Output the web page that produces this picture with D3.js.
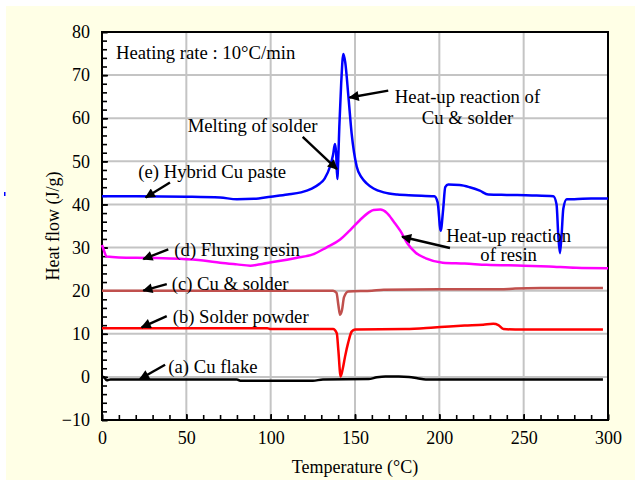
<!DOCTYPE html>
<html>
<head>
<meta charset="utf-8">
<script src="https://cdn.jsdelivr.net/npm/d3@7.9.0/dist/d3.min.js"></script>
<style>
  html, body { margin: 0; padding: 0; background: #fff; }
  svg text { font-family: "Liberation Serif", "DejaVu Serif", serif; fill: #000; }
</style>
</head>
<body>
<svg id="chart" width="635" height="486"></svg>
<script>
// ---- data (temperature in °C, heat flow in J/g) ----
const cuFlake = [[0,0],[1,0],[2.8,-0.8],[5,-0.6],[80,-0.6],[82,-0.9],[125,-0.9],[131,-0.6],[158,-0.5],
  [163,-0.1],[168,0.1],[176,0.1],[182,0],[187,-0.3],[192,-0.6],[297,-0.6]];

const solderPowder = [[0,11.3],[98,11.3],[100,11.1],[137,11.1],[139.2,10.1],[140.1,6.3],[141.5,0.1],
  [142.8,2],[144.1,4.7],[146,8],[148,10.5],[150,11],[180,11.1],[195,11.4],[206,11.7],[215,11.9],
  [226,12.1],[232,12.3],[235,12],[238,11.1],[245,11],[297,11]];

const cuSolder = [[0,20],[50,20],[100,20],[137,20],[139,19.5],[140.2,16.5],[141.1,14.4],[142.3,15.5],
  [143.5,18.5],[146,19.8],[160,20],[167,20.2],[200,20.3],[236,20.3],[245,20.5],[260,20.6],[297,20.6]];

const fluxingResin = [[0,30.6],[1,29.5],[2.8,27.9],[10,27.7],[30,27.6],[46,27.4],[60,27],[70,26.5],
  [80,26.1],[88,25.8],[95,26.2],[104,26.8],[115,27.6],[125,28.4],[133,30.0],[141,31.8],[147,34.0],
  [153,36.4],[158,38.1],[161,38.7],[165,38.8],[169,38],[173,36],[177,33.8],[181,31],[186,28.8],
  [192,27.5],[202,26.5],[215,26.3],[228,26],[250,25.8],[265,25.6],[281,25.3],[300,25.2]];

const hybridPaste = [[0,41.9],[20,41.9],[50,41.8],[70,41.6],[80,41.2],[90,41.3],[100,41.8],[110,42.3],
  [118,42.8],[124,43.6],[129,44.8],[132,46],[135.2,48.8],[137,51.5],[138.1,54],[138.8,52],[139.5,45.9],
  [140.2,52],[140.7,58],[141.8,68],[143.1,74.9],[144.2,73],[146.1,65],[148,56.5],[151,48.8],[154,46.2],
  [156.9,44.9],[161,43.7],[167,42.8],[175,42.3],[185,42.1],[197,41.9],[199,40.5],[200.8,33.9],
  [202.3,39],[203.5,44],[205.3,44.6],[212,44.5],[218,44],[224,43.2],[229,42.3],[240,42.2],[255,42.1],
  [267.6,41.9],[269.5,40],[270.5,33],[271.5,28.7],[272.5,33],[273.5,39],[275.5,41.2],[280,41.2],
  [290,41.4],[300,41.4]];

const xTicks = [0, 50, 100, 150, 200, 250, 300];
const yTicks = [-10, 0, 10, 20, 30, 40, 50, 60, 70, 80];

// ---- layout ----
const svg = d3.select('#chart');
const x = d3.scaleLinear().domain([0, 300]).range([102, 608]);
const y = d3.scaleLinear().domain([-10, 80]).range([420, 32]);

// yellow page background
svg.append('rect')
  .attr('x', 6).attr('y', 6).attr('width', 629).attr('height', 474)
  .attr('fill', '#ffffe6');

// stray mark at the left edge of the original
svg.append('rect').attr('x', 4).attr('y', 192).attr('width', 1.5).attr('height', 4).attr('fill', '#0000ff');

// plot area
svg.append('rect')
  .attr('x', x(0)).attr('y', y(80))
  .attr('width', x(300) - x(0)).attr('height', y(-10) - y(80))
  .attr('fill', '#fff');

// grid
const grid = svg.append('g').attr('stroke', '#c4c4c4').attr('stroke-width', 2);
xTicks.slice(1, -1).forEach(t => {
  grid.append('line').attr('x1', x(t)).attr('x2', x(t)).attr('y1', y(-10)).attr('y2', y(80));
});
yTicks.slice(1, -1).forEach(t => {
  grid.append('line').attr('x1', x(0)).attr('x2', x(300)).attr('y1', y(t)).attr('y2', y(t));
});

// minor + major ticks pointing inwards
const xAxisMinor = d3.axisBottom(x).tickValues(d3.range(0, 301, 10)).tickSize(-5).tickFormat('');
const yAxisMinor = d3.axisLeft(y).tickValues(d3.range(-10, 81, 2)).tickSize(-5).tickFormat('');
const xAxis = d3.axisBottom(x).tickValues(xTicks).tickSize(-6).tickPadding(14).tickFormat(d3.format('d'));
const yAxis = d3.axisLeft(y).tickValues(yTicks).tickSize(-6).tickPadding(12)
  .tickFormat(d => d < 0 ? '\u2212' + Math.abs(d) : d);

svg.append('g').attr('transform', `translate(0,${y(-10)})`).call(xAxisMinor);
svg.append('g').attr('transform', `translate(${x(0)},0)`).call(yAxisMinor);
const gx = svg.append('g').attr('transform', `translate(0,${y(-10)})`).call(xAxis);
const gy = svg.append('g').attr('transform', `translate(${x(0)},0)`).call(yAxis);

svg.selectAll('.domain').remove();
svg.selectAll('.tick line').attr('stroke', '#000').attr('stroke-width', 1.6);
[gx, gy].forEach(g => g.selectAll('text')
  .attr('font-size', 18).attr('font-family', '"Liberation Serif", serif').attr('fill', '#000'));
gx.selectAll('text').attr('dy', '0.71em').attr('y', 11);

// frame
svg.append('rect')
  .attr('x', x(0)).attr('y', y(80))
  .attr('width', x(300) - x(0)).attr('height', y(-10) - y(80))
  .attr('fill', 'none').attr('stroke', '#000').attr('stroke-width', 2);

// axis titles
svg.append('text')
  .attr('x', (x(0) + x(300)) / 2).attr('y', 467)
  .attr('text-anchor', 'middle').attr('dominant-baseline', 'central')
  .attr('font-size', 18).text('Temperature (\u00B0C)');
svg.append('text')
  .attr('transform', `translate(53,${(y(-10) + y(80)) / 2}) rotate(-90)`)
  .attr('text-anchor', 'middle').attr('dominant-baseline', 'central')
  .attr('font-size', 18).text('Heat flow (J/g)');

// curves
const line = d3.line().x(d => x(d[0])).y(d => y(d[1])).curve(d3.curveMonotoneX);
const series = [
  { data: cuFlake, color: '#000000' },
  { data: solderPowder, color: '#ff0000' },
  { data: cuSolder, color: '#c0504d' },
  { data: fluxingResin, color: '#ff00ff' },
  { data: hybridPaste, color: '#0000ff' }
];
series.forEach(s => {
  svg.append('path')
    .attr('d', line(s.data))
    .attr('fill', 'none')
    .attr('stroke', s.color)
    .attr('stroke-width', 2.5)
    .attr('stroke-linejoin', 'round');
});

// arrow head
svg.append('defs').append('marker')
  .attr('id', 'head')
  .attr('viewBox', '0 0 10 10')
  .attr('refX', 9).attr('refY', 5)
  .attr('markerWidth', 5).attr('markerHeight', 4.2)
  .attr('markerUnits', 'strokeWidth')
  .attr('orient', 'auto')
  .append('path').attr('d', 'M0,0 L10,5 L0,10 Z').attr('fill', '#000');

// annotations: [from, to] in data coordinates
const arrows = [
  [[40.3, 45.1], [25.9, 41.6]],
  [[39.3, 29.6], [24.5, 27.3]],
  [[38.4, 21.5], [24.5, 20.0]],
  [[38.4, 14.1], [23.5, 11.5]],
  [[37.4, 2.8], [22.5, -0.5]],
  [[119, 55.7], [139.3, 48.2]],
  [[169.7, 66.4], [146.8, 64.8]],
  [[206.3, 29.9], [177.9, 32.5]]
];
arrows.forEach(([a, b]) => {
  svg.append('line')
    .attr('x1', x(a[0])).attr('y1', y(a[1]))
    .attr('x2', x(b[0])).attr('y2', y(b[1]))
    .attr('stroke', '#000').attr('stroke-width', 2.4)
    .attr('marker-end', 'url(#head)');
});

const labels = [
  { t: 8.3, v: 75.2, text: 'Heating rate : 10\u00B0C/min', anchor: 'start' },
  { t: 50.8, v: 58.2, text: 'Melting of solder', anchor: 'start' },
  { t: 216.7, v: 65.0, text: 'Heat-up reaction of', anchor: 'middle' },
  { t: 216.7, v: 60.2, text: 'Cu & solder', anchor: 'middle' },
  { t: 241.1, v: 32.7, text: 'Heat-up reaction', anchor: 'middle' },
  { t: 241.1, v: 28.3, text: 'of resin', anchor: 'middle' },
  { t: 21.5, v: 47.6, text: '(e) Hybrid Cu paste', anchor: 'start' },
  { t: 42.9, v: 29.6, text: '(d) Fluxing resin', anchor: 'start' },
  { t: 41.3, v: 21.7, text: '(c) Cu & solder', anchor: 'start' },
  { t: 41.9, v: 14.1, text: '(b) Solder powder', anchor: 'start' },
  { t: 39.3, v: 2.5, text: '(a) Cu flake', anchor: 'start' }
];
labels.forEach(l => {
  svg.append('text')
    .attr('x', x(l.t)).attr('y', y(l.v))
    .attr('text-anchor', l.anchor).attr('dominant-baseline', 'central')
    .attr('font-size', 18.7).text(l.text);
});
</script>
</body>
</html>
